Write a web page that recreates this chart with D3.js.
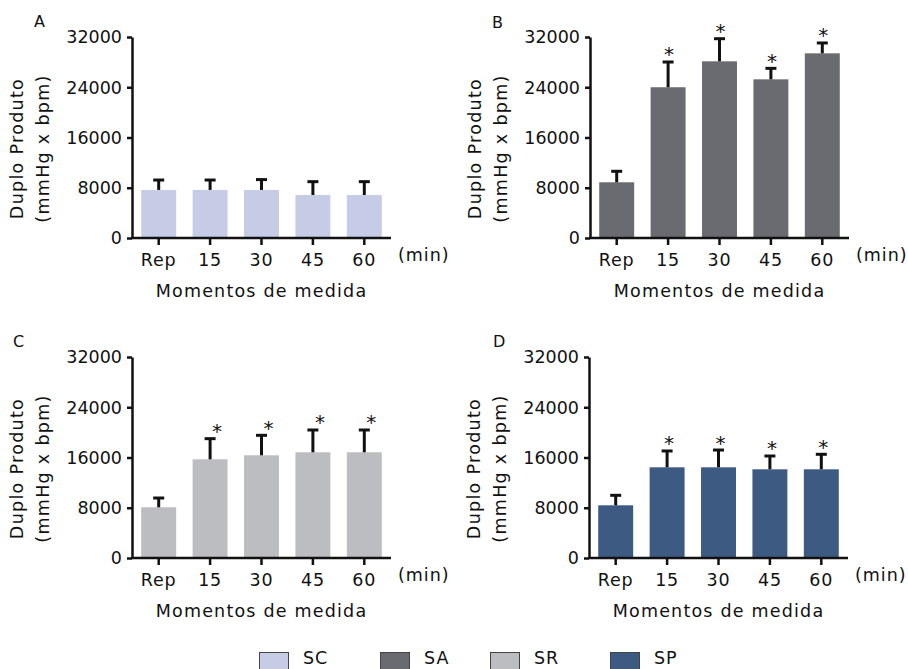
<!DOCTYPE html>
<html>
<head>
<meta charset="utf-8">
<script src="https://cdn.jsdelivr.net/npm/d3@7"></script>
<style>
  html, body { margin: 0; padding: 0; background: #fff; }
  svg { display: block; }
  text { font-family: "DejaVu Sans", sans-serif; fill: #111; }
</style>
</head>
<body>
<svg id="chart" width="908" height="669"></svg>
<script>
// Measurement moments (x categories)
const categories = ["Rep", "15", "30", "45", "60"];
const yTicks = [0, 8000, 16000, 24000, 32000];

// Double product means and standard deviations per group
const scMean = [7650, 7650, 7650, 6850, 6850];
const scSd   = [1580, 1580, 1650, 2120, 2120];
const saMean = [8870, 24000, 28130, 25260, 29400];
const saSd   = [1750, 4020, 3600, 1750, 1650];
const srMean = [8070, 15710, 16350, 16830, 16830];
const srSd   = [1480, 3290, 3180, 3550, 3550];
const spMean = [8390, 14440, 14440, 14120, 14120];
const spSd   = [1590, 2600, 2750, 2120, 2390];

// Significance markers (* vs. rest)
const scSig = [false, false, false, false, false];
const saSig = [false, true, true, true, true];
const srSig = [false, true, true, true, true];
const spSig = [false, true, true, true, true];

const groupNames  = ["SC", "SA", "SR", "SP"];
const groupColors = ["#c6cce6", "#6a6b70", "#bcbdc1", "#3c5a82"];

const yLabel1 = "Duplo Produto";
const yLabel2 = "(mmHg x bpm)";
const xLabel  = "Momentos de medida";
const unitLabel = "(min)";

const svg = d3.select("#chart");
const FS = 17.5;

const panels = [
  { letter: "A", mean: scMean, sd: scSd, sig: scSig, color: groupColors[0],
    axisX: 132, top: 37, bottom: 238, letterX: 34, letterY: 27, starDx: 0 },
  { letter: "B", mean: saMean, sd: saSd, sig: saSig, color: groupColors[1],
    axisX: 590, top: 37, bottom: 238, letterX: 492, letterY: 28, starDx: 1 },
  { letter: "C", mean: srMean, sd: srSd, sig: srSig, color: groupColors[2],
    axisX: 132, top: 357, bottom: 558, letterX: 13, letterY: 347, starDx: 7 },
  { letter: "D", mean: spMean, sd: spSd, sig: spSig, color: groupColors[3],
    axisX: 589, top: 357, bottom: 558, letterX: 493, letterY: 347, starDx: 2 }
];

panels.forEach(p => {
  const g = svg.append("g");
  const xEnd = p.axisX + 259;

  const x = d3.scaleBand()
    .domain(categories)
    .range([p.axisX + 1, p.axisX + 258])
    .paddingInner(0.32)
    .paddingOuter(0.16);
  const y = d3.scaleLinear().domain([0, 32000]).range([p.bottom, p.top]);

  // bars
  g.selectAll("rect.bar")
    .data(categories)
    .join("rect")
    .attr("class", "bar")
    .attr("x", d => x(d))
    .attr("width", x.bandwidth())
    .attr("y", (d, i) => y(p.mean[i]))
    .attr("height", (d, i) => y(0) - y(p.mean[i]))
    .attr("fill", p.color);

  // error bars (upper)
  const cx = d => x(d) + x.bandwidth() / 2;
  g.selectAll("line.err")
    .data(categories)
    .join("line")
    .attr("x1", cx).attr("x2", cx)
    .attr("y1", (d, i) => y(p.mean[i]))
    .attr("y2", (d, i) => y(p.mean[i] + p.sd[i]))
    .attr("stroke", "#111").attr("stroke-width", 3);
  g.selectAll("line.cap")
    .data(categories)
    .join("line")
    .attr("x1", d => cx(d) - 5.5).attr("x2", d => cx(d) + 5.5)
    .attr("y1", (d, i) => y(p.mean[i] + p.sd[i]))
    .attr("y2", (d, i) => y(p.mean[i] + p.sd[i]))
    .attr("stroke", "#111").attr("stroke-width", 3);

  // significance asterisks
  g.selectAll("text.star")
    .data(categories.filter((d, i) => p.sig[i]))
    .join("text")
    .attr("x", d => cx(d) + p.starDx)
    .attr("y", d => {
      const i = categories.indexOf(d);
      return y(p.mean[i] + p.sd[i]) - 0.5;
    })
    .attr("text-anchor", "middle")
    .attr("font-size", 20)
    .text("*");

  // y axis
  const yAxis = g.append("g")
    .attr("transform", `translate(${p.axisX},0)`)
    .call(d3.axisLeft(y).tickValues(yTicks).tickFormat(d3.format("d"))
      .tickSize(5).tickPadding(5).tickSizeOuter(0));
  yAxis.select(".domain").attr("stroke", "#111").attr("stroke-width", 2.5);
  yAxis.selectAll(".tick line").attr("stroke", "#111").attr("stroke-width", 2.5);
  yAxis.selectAll(".tick text")
    .attr("font-size", FS)
    .attr("font-family", "DejaVu Sans")
    .attr("fill", "#111")
    .attr("dy", "0.34em");

  // x axis
  const xAxis = g.append("g")
    .attr("transform", `translate(0,${p.bottom})`)
    .call(d3.axisBottom(x).tickSize(7).tickPadding(9).tickSizeOuter(0));
  xAxis.select(".domain")
    .attr("d", `M${p.axisX - 1},0H${xEnd}`)
    .attr("stroke", "#111").attr("stroke-width", 2.5);
  xAxis.selectAll(".tick line").attr("stroke", "#111").attr("stroke-width", 2.5);
  xAxis.selectAll(".tick text")
    .attr("font-size", FS)
    .attr("font-family", "DejaVu Sans")
    .attr("fill", "#111")
    .attr("letter-spacing", 0.8);

  // unit label
  g.append("text")
    .attr("x", xEnd + 7).attr("y", p.bottom + 23)
    .attr("font-size", FS).attr("letter-spacing", 1)
    .text(unitLabel);

  // x axis title
  g.append("text")
    .attr("x", (p.axisX + xEnd) / 2).attr("y", p.bottom + 59)
    .attr("text-anchor", "middle")
    .attr("font-size", FS).attr("letter-spacing", 1.2)
    .text(xLabel);

  // y axis title (two lines)
  const cy = (p.top + p.bottom) / 2 + 11;
  [[yLabel1, p.axisX - 109], [yLabel2, p.axisX - 83]].forEach(([t, bx]) => {
    g.append("text")
      .attr("transform", `translate(${bx},${cy}) rotate(-90)`)
      .attr("text-anchor", "middle")
      .attr("font-size", FS).attr("letter-spacing", 1.3)
      .text(t);
  });

  // panel letter
  g.append("text")
    .attr("x", p.letterX).attr("y", p.letterY)
    .attr("font-size", 16)
    .text(p.letter);
});

// legend
const legendX = [259, 380, 490, 610];
const legend = svg.append("g");
legend.selectAll("rect")
  .data(groupNames)
  .join("rect")
  .attr("x", (d, i) => legendX[i] + 0.5)
  .attr("y", 652.5)
  .attr("width", 29).attr("height", 22)
  .attr("fill", (d, i) => groupColors[i])
  .attr("stroke", "#444").attr("stroke-width", 1);
legend.selectAll("text")
  .data(groupNames)
  .join("text")
  .attr("x", (d, i) => legendX[i] + 44)
  .attr("y", 664)
  .attr("font-size", FS)
  .attr("letter-spacing", 1)
  .text(d => d);
</script>
</body>
</html>
